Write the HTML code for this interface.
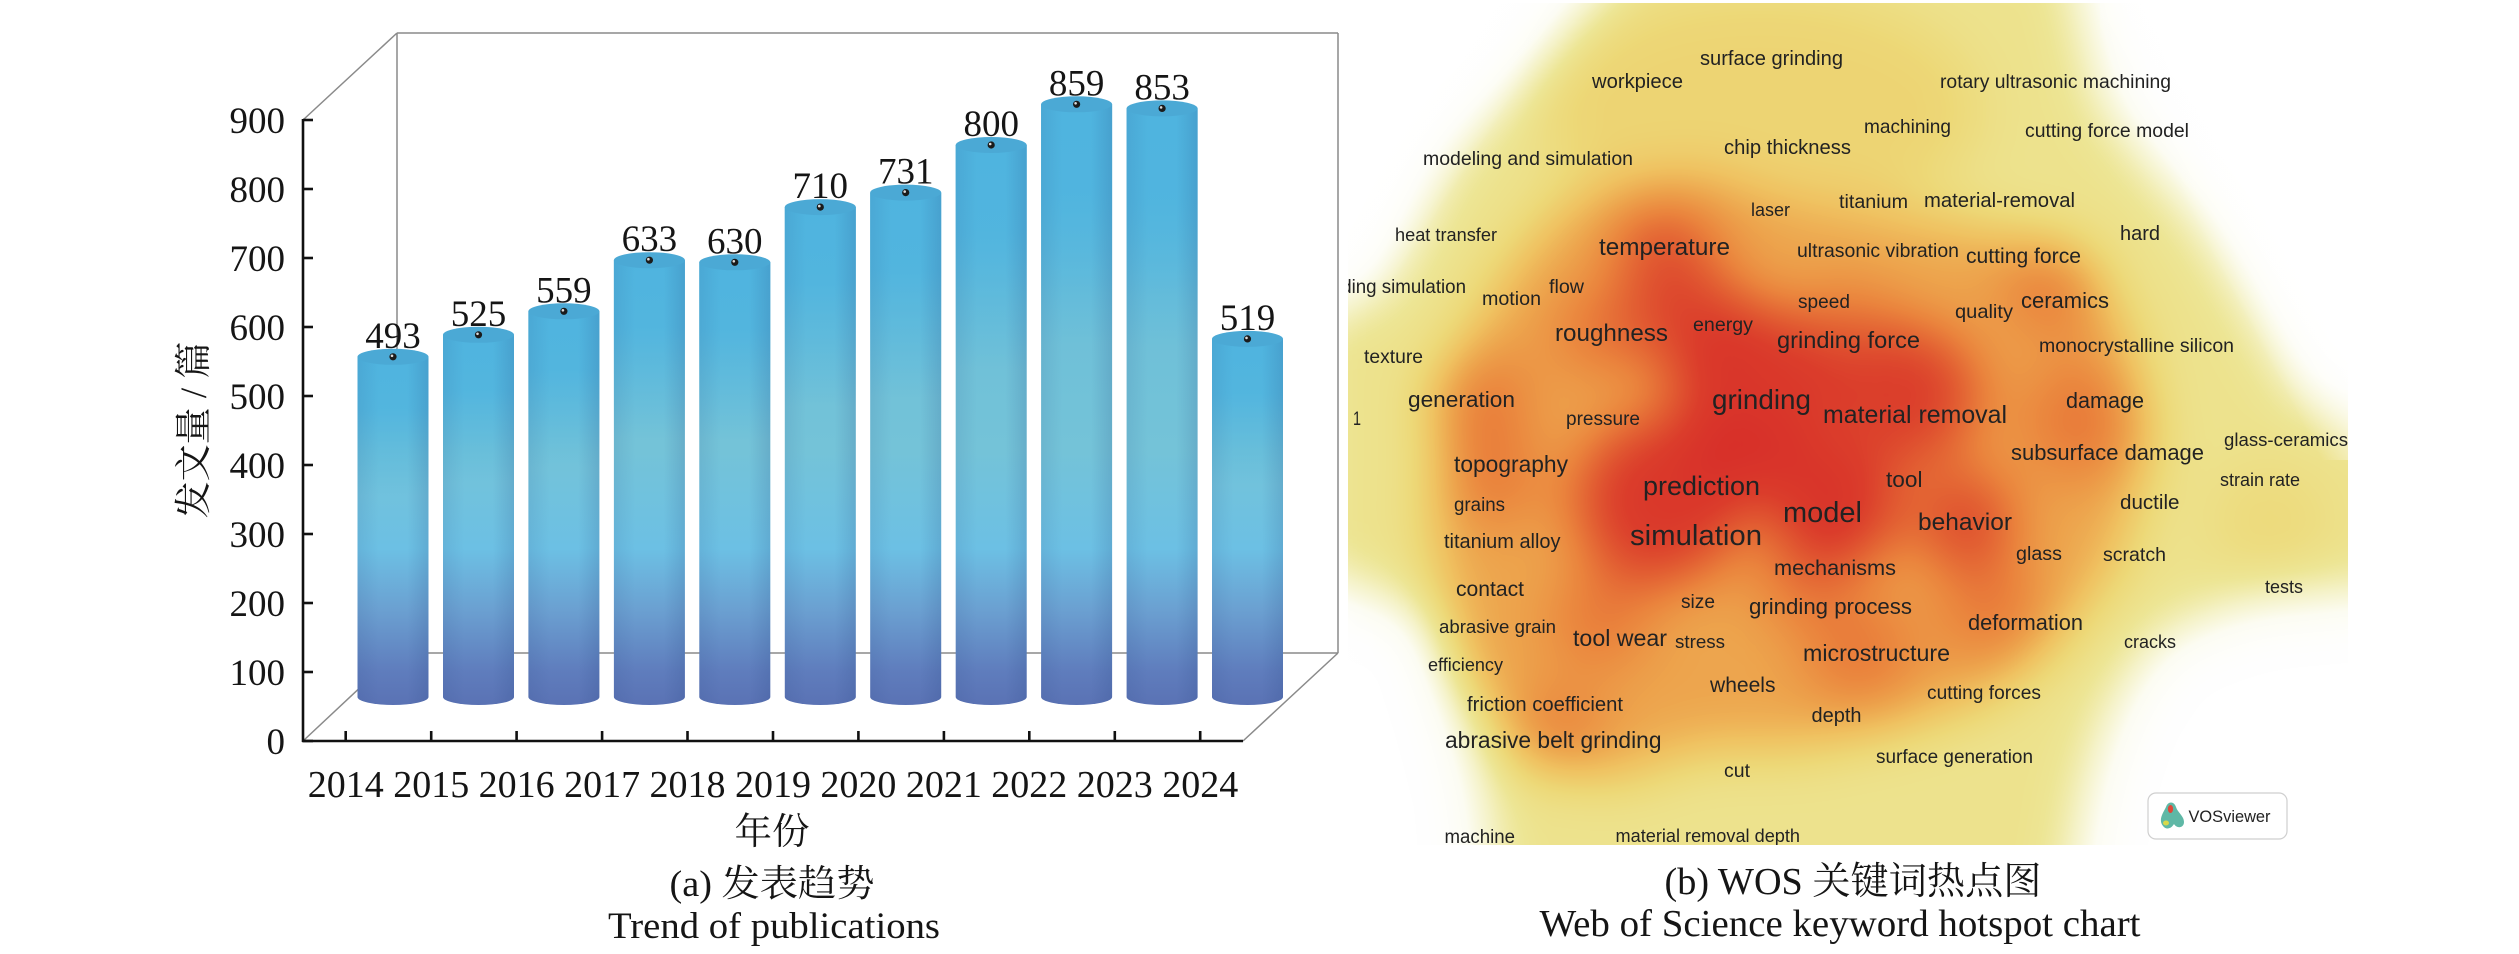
<!DOCTYPE html>
<html>
<head>
<meta charset="utf-8">
<style>
html,body{margin:0;padding:0;background:#fff;}
svg{display:block;}
.tk{font-family:"Liberation Serif","Noto Serif CJK SC",serif;fill:#151515;}
.hw{font-family:"Liberation Sans","DejaVu Sans",sans-serif;fill:#222;}
</style>
</head>
<body>
<svg width="2519" height="954" viewBox="0 0 2519 954" xmlns="http://www.w3.org/2000/svg">
<defs>
  <linearGradient id="body" gradientUnits="userSpaceOnUse" x1="0" y1="104" x2="0" y2="705">
    <stop offset="0" stop-color="#50b5df"/>
    <stop offset="0.326" stop-color="#6dbfd8"/>
    <stop offset="0.576" stop-color="#74c3d8"/>
    <stop offset="0.74" stop-color="#6cc0e4"/>
    <stop offset="0.842" stop-color="#6ba0d1"/>
    <stop offset="0.943" stop-color="#5f7dbd"/>
    <stop offset="1" stop-color="#5a72b4"/>
  </linearGradient>
  <linearGradient id="topblue" x1="0" y1="0" x2="0" y2="1">
    <stop offset="0" stop-color="#4fb4df" stop-opacity="1"/>
    <stop offset="0.15" stop-color="#4fb4df" stop-opacity="0.9"/>
    <stop offset="0.4" stop-color="#4fb4df" stop-opacity="0"/>
  </linearGradient>
  <linearGradient id="side" x1="0" y1="0" x2="1" y2="0">
    <stop offset="0" stop-color="#1e3c78" stop-opacity="0.10"/>
    <stop offset="0.3" stop-color="#1e3c78" stop-opacity="0"/>
    <stop offset="0.7" stop-color="#1e3c78" stop-opacity="0"/>
    <stop offset="1" stop-color="#1e3c78" stop-opacity="0.16"/>
  </linearGradient>
  <linearGradient id="wtl" gradientUnits="userSpaceOnUse" x1="1348" y1="3" x2="1508" y2="106">
    <stop offset="0" stop-color="#fff" stop-opacity="1"/>
    <stop offset="0.55" stop-color="#fff" stop-opacity="1"/>
    <stop offset="0.8" stop-color="#fff" stop-opacity="0.45"/>
    <stop offset="1" stop-color="#fff" stop-opacity="0"/>
  </linearGradient>
  <linearGradient id="wtr" gradientUnits="userSpaceOnUse" x1="2348" y1="3" x2="2137" y2="116">
    <stop offset="0" stop-color="#fff" stop-opacity="1"/>
    <stop offset="0.68" stop-color="#fff" stop-opacity="1"/>
    <stop offset="1" stop-color="#fff" stop-opacity="0"/>
  </linearGradient>
  <radialGradient id="wbl" gradientUnits="userSpaceOnUse" cx="1320" cy="860" r="100" gradientTransform="translate(1320 860) scale(1 2.8) translate(-1320 -860)">
    <stop offset="0" stop-color="#fff" stop-opacity="1"/>
    <stop offset="0.65" stop-color="#fff" stop-opacity="1"/>
    <stop offset="1" stop-color="#fff" stop-opacity="0"/>
  </radialGradient>
  <clipPath id="hc"><rect x="1348" y="3" width="1000" height="842"/></clipPath>
  <filter id="heat" filterUnits="userSpaceOnUse" x="1250" y="-100" width="1200" height="1050" color-interpolation-filters="sRGB">
    <feGaussianBlur stdDeviation="30"/>
    <feComponentTransfer>
      <feFuncR type="table" tableValues="1 0.99 0.96 0.93 0.93 0.94 0.93 0.92 0.89 0.86 0.84"/>
      <feFuncG type="table" tableValues="1 0.99 0.95 0.90 0.85 0.76 0.64 0.52 0.38 0.24 0.16"/>
      <feFuncB type="table" tableValues="1 0.95 0.78 0.58 0.47 0.38 0.30 0.24 0.20 0.17 0.16"/>
    </feComponentTransfer>
  </filter>
</defs>

<rect x="0" y="0" width="2519" height="954" fill="#fff"/>

<!-- ============ LEFT CHART ============ -->
<g stroke="#8a8a8a" stroke-width="1.5" fill="none">
  <line x1="397" y1="33" x2="1338" y2="33"/>
  <line x1="397" y1="33" x2="397" y2="653"/>
  <line x1="1338" y1="33" x2="1338" y2="653"/>
  <line x1="397" y1="653" x2="1338" y2="653"/>
  <line x1="303" y1="120" x2="397" y2="33"/>
  <line x1="303" y1="741" x2="397" y2="653"/>
  <line x1="1243" y1="741" x2="1338" y2="653"/>
</g>

<g id="bars">
  <g>
    <path d="M357.5,356.8 L357.5,697 A35.5,8 0 0 0 428.5,697 L428.5,356.8 Z" fill="url(#body)"/>
    <path d="M357.5,356.8 L357.5,697 A35.5,8 0 0 0 428.5,697 L428.5,356.8 Z" fill="url(#topblue)"/>
    <path d="M357.5,356.8 L357.5,697 A35.5,8 0 0 0 428.5,697 L428.5,356.8 Z" fill="url(#side)"/>
    <ellipse cx="393" cy="356.8" rx="35.5" ry="8" fill="#4ba9d5"/>
    <circle cx="393" cy="356.8" r="3.6" fill="#1b1b1b"/><circle cx="392" cy="355.8" r="1.3" fill="#ddd"/>
    <text class="tk" x="393" y="347.8" font-size="37" text-anchor="middle">493</text>
  </g>
  <g>
    <path d="M443,334.8 L443,697 A35.5,8 0 0 0 514,697 L514,334.8 Z" fill="url(#body)"/>
    <path d="M443,334.8 L443,697 A35.5,8 0 0 0 514,697 L514,334.8 Z" fill="url(#topblue)"/>
    <path d="M443,334.8 L443,697 A35.5,8 0 0 0 514,697 L514,334.8 Z" fill="url(#side)"/>
    <ellipse cx="478.5" cy="334.8" rx="35.5" ry="8" fill="#4ba9d5"/>
    <circle cx="478.5" cy="334.8" r="3.6" fill="#1b1b1b"/><circle cx="477.5" cy="333.8" r="1.3" fill="#ddd"/>
    <text class="tk" x="478.5" y="325.8" font-size="37" text-anchor="middle">525</text>
  </g>
  <g>
    <path d="M528.4,311.3 L528.4,697 A35.5,8 0 0 0 599.4,697 L599.4,311.3 Z" fill="url(#body)"/>
    <path d="M528.4,311.3 L528.4,697 A35.5,8 0 0 0 599.4,697 L599.4,311.3 Z" fill="url(#topblue)"/>
    <path d="M528.4,311.3 L528.4,697 A35.5,8 0 0 0 599.4,697 L599.4,311.3 Z" fill="url(#side)"/>
    <ellipse cx="563.9" cy="311.3" rx="35.5" ry="8" fill="#4ba9d5"/>
    <circle cx="563.9" cy="311.3" r="3.6" fill="#1b1b1b"/><circle cx="562.9" cy="310.3" r="1.3" fill="#ddd"/>
    <text class="tk" x="563.9" y="302.3" font-size="37" text-anchor="middle">559</text>
  </g>
  <g>
    <path d="M613.9,260.2 L613.9,697 A35.5,8 0 0 0 684.9,697 L684.9,260.2 Z" fill="url(#body)"/>
    <path d="M613.9,260.2 L613.9,697 A35.5,8 0 0 0 684.9,697 L684.9,260.2 Z" fill="url(#topblue)"/>
    <path d="M613.9,260.2 L613.9,697 A35.5,8 0 0 0 684.9,697 L684.9,260.2 Z" fill="url(#side)"/>
    <ellipse cx="649.4" cy="260.2" rx="35.5" ry="8" fill="#4ba9d5"/>
    <circle cx="649.4" cy="260.2" r="3.6" fill="#1b1b1b"/><circle cx="648.4" cy="259.2" r="1.3" fill="#ddd"/>
    <text class="tk" x="649.4" y="251.2" font-size="37" text-anchor="middle">633</text>
  </g>
  <g>
    <path d="M699.3,262.3 L699.3,697 A35.5,8 0 0 0 770.3,697 L770.3,262.3 Z" fill="url(#body)"/>
    <path d="M699.3,262.3 L699.3,697 A35.5,8 0 0 0 770.3,697 L770.3,262.3 Z" fill="url(#topblue)"/>
    <path d="M699.3,262.3 L699.3,697 A35.5,8 0 0 0 770.3,697 L770.3,262.3 Z" fill="url(#side)"/>
    <ellipse cx="734.8" cy="262.3" rx="35.5" ry="8" fill="#4ba9d5"/>
    <circle cx="734.8" cy="262.3" r="3.6" fill="#1b1b1b"/><circle cx="733.8" cy="261.3" r="1.3" fill="#ddd"/>
    <text class="tk" x="734.8" y="253.3" font-size="37" text-anchor="middle">630</text>
  </g>
  <g>
    <path d="M784.8,207.1 L784.8,697 A35.5,8 0 0 0 855.8,697 L855.8,207.1 Z" fill="url(#body)"/>
    <path d="M784.8,207.1 L784.8,697 A35.5,8 0 0 0 855.8,697 L855.8,207.1 Z" fill="url(#topblue)"/>
    <path d="M784.8,207.1 L784.8,697 A35.5,8 0 0 0 855.8,697 L855.8,207.1 Z" fill="url(#side)"/>
    <ellipse cx="820.3" cy="207.1" rx="35.5" ry="8" fill="#4ba9d5"/>
    <circle cx="820.3" cy="207.1" r="3.6" fill="#1b1b1b"/><circle cx="819.3" cy="206.1" r="1.3" fill="#ddd"/>
    <text class="tk" x="820.3" y="198.1" font-size="37" text-anchor="middle">710</text>
  </g>
  <g>
    <path d="M870.2,192.6 L870.2,697 A35.5,8 0 0 0 941.2,697 L941.2,192.6 Z" fill="url(#body)"/>
    <path d="M870.2,192.6 L870.2,697 A35.5,8 0 0 0 941.2,697 L941.2,192.6 Z" fill="url(#topblue)"/>
    <path d="M870.2,192.6 L870.2,697 A35.5,8 0 0 0 941.2,697 L941.2,192.6 Z" fill="url(#side)"/>
    <ellipse cx="905.7" cy="192.6" rx="35.5" ry="8" fill="#4ba9d5"/>
    <circle cx="905.7" cy="192.6" r="3.6" fill="#1b1b1b"/><circle cx="904.7" cy="191.6" r="1.3" fill="#ddd"/>
    <text class="tk" x="905.7" y="183.6" font-size="37" text-anchor="middle">731</text>
  </g>
  <g>
    <path d="M955.7,145 L955.7,697 A35.5,8 0 0 0 1026.7,697 L1026.7,145 Z" fill="url(#body)"/>
    <path d="M955.7,145 L955.7,697 A35.5,8 0 0 0 1026.7,697 L1026.7,145 Z" fill="url(#topblue)"/>
    <path d="M955.7,145 L955.7,697 A35.5,8 0 0 0 1026.7,697 L1026.7,145 Z" fill="url(#side)"/>
    <ellipse cx="991.2" cy="145" rx="35.5" ry="8" fill="#4ba9d5"/>
    <circle cx="991.2" cy="145" r="3.6" fill="#1b1b1b"/><circle cx="990.2" cy="144" r="1.3" fill="#ddd"/>
    <text class="tk" x="991.2" y="136" font-size="37" text-anchor="middle">800</text>
  </g>
  <g>
    <path d="M1041.1,104.3 L1041.1,697 A35.5,8 0 0 0 1112.1,697 L1112.1,104.3 Z" fill="url(#body)"/>
    <path d="M1041.1,104.3 L1041.1,697 A35.5,8 0 0 0 1112.1,697 L1112.1,104.3 Z" fill="url(#topblue)"/>
    <path d="M1041.1,104.3 L1041.1,697 A35.5,8 0 0 0 1112.1,697 L1112.1,104.3 Z" fill="url(#side)"/>
    <ellipse cx="1076.6" cy="104.3" rx="35.5" ry="8" fill="#4ba9d5"/>
    <circle cx="1076.6" cy="104.3" r="3.6" fill="#1b1b1b"/><circle cx="1075.6" cy="103.3" r="1.3" fill="#ddd"/>
    <text class="tk" x="1076.6" y="95.3" font-size="37" text-anchor="middle">859</text>
  </g>
  <g>
    <path d="M1126.6,108.4 L1126.6,697 A35.5,8 0 0 0 1197.6,697 L1197.6,108.4 Z" fill="url(#body)"/>
    <path d="M1126.6,108.4 L1126.6,697 A35.5,8 0 0 0 1197.6,697 L1197.6,108.4 Z" fill="url(#topblue)"/>
    <path d="M1126.6,108.4 L1126.6,697 A35.5,8 0 0 0 1197.6,697 L1197.6,108.4 Z" fill="url(#side)"/>
    <ellipse cx="1162.1" cy="108.4" rx="35.5" ry="8" fill="#4ba9d5"/>
    <circle cx="1162.1" cy="108.4" r="3.6" fill="#1b1b1b"/><circle cx="1161.1" cy="107.4" r="1.3" fill="#ddd"/>
    <text class="tk" x="1162.1" y="99.4" font-size="37" text-anchor="middle">853</text>
  </g>
  <g>
    <path d="M1212,338.9 L1212,697 A35.5,8 0 0 0 1283,697 L1283,338.9 Z" fill="url(#body)"/>
    <path d="M1212,338.9 L1212,697 A35.5,8 0 0 0 1283,697 L1283,338.9 Z" fill="url(#topblue)"/>
    <path d="M1212,338.9 L1212,697 A35.5,8 0 0 0 1283,697 L1283,338.9 Z" fill="url(#side)"/>
    <ellipse cx="1247.5" cy="338.9" rx="35.5" ry="8" fill="#4ba9d5"/>
    <circle cx="1247.5" cy="338.9" r="3.6" fill="#1b1b1b"/><circle cx="1246.5" cy="337.9" r="1.3" fill="#ddd"/>
    <text class="tk" x="1247.5" y="329.9" font-size="37" text-anchor="middle">519</text>
  </g>
</g>

<g stroke="#111" stroke-width="2.6" fill="none">
  <line x1="303" y1="119" x2="303" y2="742"/>
  <line x1="302" y1="741" x2="1243" y2="741"/>
  <line x1="303" y1="741" x2="313" y2="741"/>
  <line x1="303" y1="672" x2="313" y2="672"/>
  <line x1="303" y1="603" x2="313" y2="603"/>
  <line x1="303" y1="534" x2="313" y2="534"/>
  <line x1="303" y1="465" x2="313" y2="465"/>
  <line x1="303" y1="396" x2="313" y2="396"/>
  <line x1="303" y1="327" x2="313" y2="327"/>
  <line x1="303" y1="258" x2="313" y2="258"/>
  <line x1="303" y1="189" x2="313" y2="189"/>
  <line x1="303" y1="120" x2="313" y2="120"/>
  <line x1="345.7" y1="741" x2="345.7" y2="731"/>
  <line x1="431.2" y1="741" x2="431.2" y2="731"/>
  <line x1="516.6" y1="741" x2="516.6" y2="731"/>
  <line x1="602.1" y1="741" x2="602.1" y2="731"/>
  <line x1="687.5" y1="741" x2="687.5" y2="731"/>
  <line x1="773" y1="741" x2="773" y2="731"/>
  <line x1="858.4" y1="741" x2="858.4" y2="731"/>
  <line x1="943.9" y1="741" x2="943.9" y2="731"/>
  <line x1="1029.3" y1="741" x2="1029.3" y2="731"/>
  <line x1="1114.8" y1="741" x2="1114.8" y2="731"/>
  <line x1="1200.2" y1="741" x2="1200.2" y2="731"/>
</g>

<g class="tk" font-size="37" text-anchor="end">
  <text x="285" y="754">0</text>
  <text x="285" y="685">100</text>
  <text x="285" y="616">200</text>
  <text x="285" y="547">300</text>
  <text x="285" y="478">400</text>
  <text x="285" y="409">500</text>
  <text x="285" y="340">600</text>
  <text x="285" y="271">700</text>
  <text x="285" y="202">800</text>
  <text x="285" y="133">900</text>
</g>

<g class="tk" font-size="38" text-anchor="middle">
  <text x="345.7" y="797">2014</text>
  <text x="431.2" y="797">2015</text>
  <text x="516.6" y="797">2016</text>
  <text x="602.1" y="797">2017</text>
  <text x="687.5" y="797">2018</text>
  <text x="773" y="797">2019</text>
  <text x="858.4" y="797">2020</text>
  <text x="943.9" y="797">2021</text>
  <text x="1029.3" y="797">2022</text>
  <text x="1114.8" y="797">2023</text>
  <text x="1200.2" y="797">2024</text>
</g>

<text class="tk" font-size="37" text-anchor="middle" transform="translate(206,430) rotate(-90)">发文量 / 篇</text>
<text class="tk" x="772" y="844" font-size="37" text-anchor="middle" textLength="75" lengthAdjust="spacingAndGlyphs">年份</text>
<text class="tk" x="772" y="896" font-size="37" text-anchor="middle" textLength="205" lengthAdjust="spacingAndGlyphs">(a) 发表趋势</text>
<text class="tk" x="774" y="938" font-size="37" text-anchor="middle" textLength="332" lengthAdjust="spacingAndGlyphs">Trend of publications</text>

<!-- ============ RIGHT HEATMAP ============ -->
<g clip-path="url(#hc)">
  <g filter="url(#heat)">
    <rect x="1250" y="-100" width="1200" height="1050" fill="#000"/>
    <polygon fill="#fff" fill-opacity="0.32" points="1640,-60 2070,-60 2105,100 2150,160 2200,215 2240,280 2275,340 2310,400 2420,420 2420,590 2250,605 2160,640 2115,710 2090,790 2070,920 1490,920 1480,800 1460,720 1430,620 1300,570 1300,320 1380,290 1410,230 1450,150 1520,80"/>
    <ellipse fill="#fff" fill-opacity="0.15" cx="1760" cy="110" rx="220" ry="120"/>
    <ellipse fill="#fff" fill-opacity="0.10" cx="2270" cy="520" rx="60" ry="55"/>
    <polygon fill="#fff" fill-opacity="0.4" points="1560,200 1700,180 1800,210 1950,220 2080,250 2130,330 2150,450 2120,560 2060,640 1990,700 1900,730 1800,750 1700,750 1620,780 1520,760 1450,660 1430,520 1440,400 1490,290"/>
    <g fill="#fff" fill-opacity="0.35">
      <circle cx="2050" cy="290" r="45"/>
      <circle cx="2080" cy="420" r="60"/>
      <circle cx="1480" cy="400" r="50"/>
      <circle cx="1495" cy="480" r="45"/>
      <circle cx="1560" cy="730" r="40"/>
      <circle cx="1860" cy="650" r="55"/>
      <circle cx="1990" cy="610" r="50"/>
      <circle cx="1800" cy="580" r="45"/>
      <circle cx="1600" cy="620" r="50"/>
    </g>
    <circle fill="#fff" fill-opacity="0.55" cx="1660" cy="250" r="50"/>
    <circle fill="#fff" fill-opacity="0.65" cx="1690" cy="320" r="60"/>
    <circle fill="#fff" fill-opacity="0.4" cx="1600" cy="330" r="45"/>
    <circle fill="#fff" fill-opacity="0.8" cx="1760" cy="390" r="85"/>
    <circle fill="#fff" fill-opacity="0.75" cx="1910" cy="395" r="70"/>
    <circle fill="#fff" fill-opacity="0.4" cx="1850" cy="330" r="45"/>
    <circle fill="#fff" fill-opacity="0.8" cx="1660" cy="500" r="85"/>
    <circle fill="#fff" fill-opacity="0.85" cx="1835" cy="505" r="65"/>
    <circle fill="#fff" fill-opacity="0.7" cx="1965" cy="520" r="50"/>
    <circle fill="#fff" fill-opacity="0.65" cx="1740" cy="460" r="55"/>
  </g>

  <rect x="1348" y="3" width="212" height="277" fill="url(#wtl)"/>
  <rect x="2100" y="3" width="248" height="457" fill="url(#wtr)"/>
  <rect x="1348" y="560" width="92" height="285" fill="url(#wbl)"/>

  <g class="hw">
    <text x="1700" y="65" font-size="20" textLength="143" lengthAdjust="spacingAndGlyphs">surface grinding</text>
    <text x="1592" y="88" font-size="20" textLength="91" lengthAdjust="spacingAndGlyphs">workpiece</text>
    <text x="1940" y="88" font-size="19.3" textLength="231" lengthAdjust="spacingAndGlyphs">rotary ultrasonic machining</text>
    <text x="1864" y="133" font-size="19.5" textLength="87" lengthAdjust="spacingAndGlyphs">machining</text>
    <text x="2025" y="137" font-size="19.5" textLength="164" lengthAdjust="spacingAndGlyphs">cutting force model</text>
    <text x="1724" y="154" font-size="20.5" textLength="127" lengthAdjust="spacingAndGlyphs">chip thickness</text>
    <text x="1423" y="165" font-size="19.5" textLength="210" lengthAdjust="spacingAndGlyphs">modeling and simulation</text>
    <text x="1751" y="216" font-size="18.5" textLength="39" lengthAdjust="spacingAndGlyphs">laser</text>
    <text x="1839" y="208" font-size="19.7" textLength="69" lengthAdjust="spacingAndGlyphs">titanium</text>
    <text x="1924" y="207" font-size="20" textLength="151" lengthAdjust="spacingAndGlyphs">material-removal</text>
    <text x="1395" y="241" font-size="18.5" textLength="102" lengthAdjust="spacingAndGlyphs">heat transfer</text>
    <text x="1599" y="255" font-size="24" textLength="131" lengthAdjust="spacingAndGlyphs">temperature</text>
    <text x="1797" y="257" font-size="19.5" textLength="162" lengthAdjust="spacingAndGlyphs">ultrasonic vibration</text>
    <text x="1966" y="263" font-size="21.5" textLength="115" lengthAdjust="spacingAndGlyphs">cutting force</text>
    <text x="2120" y="240" font-size="20.5" textLength="40" lengthAdjust="spacingAndGlyphs">hard</text>
    <text x="1310" y="293" font-size="19.5" textLength="156" lengthAdjust="spacingAndGlyphs">grinding simulation</text>
    <text x="1482" y="305" font-size="19.7" textLength="59" lengthAdjust="spacingAndGlyphs">motion</text>
    <text x="1549" y="293" font-size="19.7" textLength="35" lengthAdjust="spacingAndGlyphs">flow</text>
    <text x="1798" y="308" font-size="19.5" textLength="52" lengthAdjust="spacingAndGlyphs">speed</text>
    <text x="1693" y="331" font-size="19.5" textLength="60" lengthAdjust="spacingAndGlyphs">energy</text>
    <text x="1555" y="341" font-size="24" textLength="113" lengthAdjust="spacingAndGlyphs">roughness</text>
    <text x="1777" y="348" font-size="23.5" textLength="143" lengthAdjust="spacingAndGlyphs">grinding force</text>
    <text x="1955" y="318" font-size="19.5" textLength="58" lengthAdjust="spacingAndGlyphs">quality</text>
    <text x="2021" y="308" font-size="22.5" textLength="88" lengthAdjust="spacingAndGlyphs">ceramics</text>
    <text x="2039" y="352" font-size="19.5" textLength="195" lengthAdjust="spacingAndGlyphs">monocrystalline silicon</text>
    <text x="1364" y="363" font-size="19.3" textLength="59" lengthAdjust="spacingAndGlyphs">texture</text>
    <text x="1408" y="407" font-size="22.5" textLength="107" lengthAdjust="spacingAndGlyphs">generation</text>
    <text x="1353" y="425" font-size="19" textLength="8" lengthAdjust="spacingAndGlyphs">1</text>
    <text x="1566" y="425" font-size="19" textLength="74" lengthAdjust="spacingAndGlyphs">pressure</text>
    <text x="1712" y="409" font-size="27.5" textLength="99" lengthAdjust="spacingAndGlyphs">grinding</text>
    <text x="1823" y="423" font-size="25" textLength="184" lengthAdjust="spacingAndGlyphs">material removal</text>
    <text x="2066" y="408" font-size="22" textLength="78" lengthAdjust="spacingAndGlyphs">damage</text>
    <text x="2224" y="446" font-size="18.6" textLength="124" lengthAdjust="spacingAndGlyphs">glass-ceramics</text>
    <text x="2011" y="460" font-size="22" textLength="193" lengthAdjust="spacingAndGlyphs">subsurface damage</text>
    <text x="1454" y="472" font-size="23" textLength="114" lengthAdjust="spacingAndGlyphs">topography</text>
    <text x="1643" y="495" font-size="27" textLength="117" lengthAdjust="spacingAndGlyphs">prediction</text>
    <text x="1886" y="487" font-size="22.5" textLength="36.5" lengthAdjust="spacingAndGlyphs">tool</text>
    <text x="2220" y="486" font-size="18" textLength="80" lengthAdjust="spacingAndGlyphs">strain rate</text>
    <text x="1454" y="511" font-size="19" textLength="51" lengthAdjust="spacingAndGlyphs">grains</text>
    <text x="2120" y="509" font-size="20.5" textLength="59.5" lengthAdjust="spacingAndGlyphs">ductile</text>
    <text x="1783" y="522" font-size="29" textLength="79" lengthAdjust="spacingAndGlyphs">model</text>
    <text x="1918" y="530" font-size="24.5" textLength="94" lengthAdjust="spacingAndGlyphs">behavior</text>
    <text x="1630" y="545" font-size="29" textLength="132" lengthAdjust="spacingAndGlyphs">simulation</text>
    <text x="1444" y="548" font-size="20" textLength="116.5" lengthAdjust="spacingAndGlyphs">titanium alloy</text>
    <text x="2016" y="560" font-size="19.7" textLength="46" lengthAdjust="spacingAndGlyphs">glass</text>
    <text x="2103" y="561" font-size="19.5" textLength="63" lengthAdjust="spacingAndGlyphs">scratch</text>
    <text x="1774" y="575" font-size="21.7" textLength="122" lengthAdjust="spacingAndGlyphs">mechanisms</text>
    <text x="2265" y="593" font-size="18.5" textLength="38" lengthAdjust="spacingAndGlyphs">tests</text>
    <text x="1456" y="596" font-size="21" textLength="68" lengthAdjust="spacingAndGlyphs">contact</text>
    <text x="1681" y="608" font-size="19" textLength="34" lengthAdjust="spacingAndGlyphs">size</text>
    <text x="1749" y="614" font-size="22.2" textLength="163" lengthAdjust="spacingAndGlyphs">grinding process</text>
    <text x="1968" y="630" font-size="21.8" textLength="115" lengthAdjust="spacingAndGlyphs">deformation</text>
    <text x="1439" y="633" font-size="18" textLength="117" lengthAdjust="spacingAndGlyphs">abrasive grain</text>
    <text x="1573" y="646" font-size="23" textLength="94" lengthAdjust="spacingAndGlyphs">tool wear</text>
    <text x="1675" y="648" font-size="18.7" textLength="50" lengthAdjust="spacingAndGlyphs">stress</text>
    <text x="2124" y="648" font-size="18.5" textLength="52" lengthAdjust="spacingAndGlyphs">cracks</text>
    <text x="1803" y="661" font-size="23" textLength="147" lengthAdjust="spacingAndGlyphs">microstructure</text>
    <text x="1428" y="671" font-size="18.5" textLength="75" lengthAdjust="spacingAndGlyphs">efficiency</text>
    <text x="1710" y="692" font-size="21" textLength="65.5" lengthAdjust="spacingAndGlyphs">wheels</text>
    <text x="1927" y="699" font-size="19.5" textLength="114" lengthAdjust="spacingAndGlyphs">cutting forces</text>
    <text x="1467" y="711" font-size="20" textLength="156" lengthAdjust="spacingAndGlyphs">friction coefficient</text>
    <text x="1811.5" y="722" font-size="20.5" textLength="50" lengthAdjust="spacingAndGlyphs">depth</text>
    <text x="1445" y="748" font-size="22.8" textLength="216.5" lengthAdjust="spacingAndGlyphs">abrasive belt grinding</text>
    <text x="1876" y="763" font-size="19" textLength="157" lengthAdjust="spacingAndGlyphs">surface generation</text>
    <text x="1724" y="777" font-size="19.5" textLength="26" lengthAdjust="spacingAndGlyphs">cut</text>
    <text x="1444.5" y="843" font-size="19" textLength="70.5" lengthAdjust="spacingAndGlyphs">machine</text>
    <text x="1615.5" y="842" font-size="18.5" textLength="184.5" lengthAdjust="spacingAndGlyphs">material removal depth</text>
  </g>
</g>

<rect x="2148" y="793" width="139" height="46" rx="8" ry="8" fill="#fff" stroke="#cfcfcf" stroke-width="1.2"/>
<path d="M2163,826 C2158,820 2163,813 2166,807 C2168,801 2174,801 2176,807 C2178,813 2184,816 2184,822 C2184,828 2177,829 2174,824 C2171,829 2166,830 2163,826 Z" fill="#5fb8a6"/>
<ellipse cx="2170.5" cy="809" rx="2.6" ry="4" fill="#e0483a"/>
<ellipse cx="2166" cy="823" rx="3" ry="2.5" fill="#d8d84a"/>
<text class="hw" x="2188.5" y="822" font-size="17" textLength="82" lengthAdjust="spacingAndGlyphs" fill="#333">VOSviewer</text>

<text class="tk" x="1853" y="894" font-size="38" text-anchor="middle" textLength="377" lengthAdjust="spacingAndGlyphs">(b) WOS 关键词热点图</text>
<text class="tk" x="1840" y="936" font-size="38" text-anchor="middle" textLength="601" lengthAdjust="spacingAndGlyphs">Web of Science keyword hotspot chart</text>
</svg>
</body>
</html>
